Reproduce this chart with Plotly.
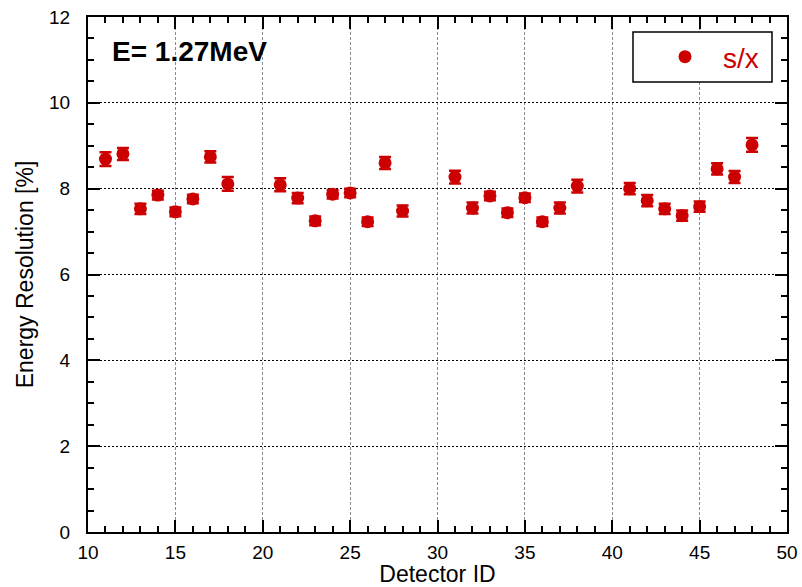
import plotly.graph_objects as go

detector_id = [11, 12, 13, 14, 15, 16, 17, 18,
               21, 22, 23, 24, 25, 26, 27, 28,
               31, 32, 33, 34, 35, 36, 37, 38,
               41, 42, 43, 44, 45, 46, 47, 48]
resolution = [8.69, 8.81, 7.53, 7.85, 7.46, 7.76, 8.74, 8.11,
              8.09, 7.78, 7.25, 7.87, 7.90, 7.23, 8.60, 7.48,
              8.27, 7.55, 7.83, 7.44, 7.79, 7.23, 7.55, 8.06,
              8.00, 7.72, 7.53, 7.37, 7.58, 8.46, 8.27, 9.02]
res_err = [0.16, 0.14, 0.12, 0.10, 0.10, 0.10, 0.13, 0.16,
           0.15, 0.12, 0.10, 0.10, 0.10, 0.10, 0.14, 0.13,
           0.15, 0.13, 0.10, 0.10, 0.10, 0.10, 0.13, 0.15,
           0.13, 0.13, 0.12, 0.12, 0.12, 0.13, 0.14, 0.16]

RED = "#cc0000"
FONT = "Liberation Sans"

fig = go.Figure()
fig.add_trace(go.Scatter(
    x=detector_id, y=resolution, mode="markers", name="s/x",
    marker=dict(color=RED, size=13, line=dict(width=0)),
    error_y=dict(type="data", array=res_err, color=RED, thickness=2.5, width=6),
))

tick_common = dict(
    ticks="inside", tickcolor="black", tickwidth=2, ticklen=12,
    tickfont=dict(family=FONT, size=19, color="black"),
    zeroline=False, automargin=False,
)

fig.update_layout(
    xaxis=dict(
        range=[10, 50], dtick=5, tick0=10,
        showline=True, linecolor="black", linewidth=2, mirror=True,
        showgrid=True, gridcolor="#8a8a8a", gridwidth=1, griddash="3px,2px",
        minor=dict(dtick=1, ticks="inside", ticklen=6, tickwidth=1.5, tickcolor="black", showgrid=False),
        title=dict(text="Detector ID", font=dict(family=FONT, size=23, color="black"), standoff=9),
        ticklabelstandoff=2,
        **tick_common,
    ),
    xaxis2=dict(
        overlaying="x", matches="x", side="top", anchor="y",
        range=[10, 50], dtick=5, tick0=10, showticklabels=False, showgrid=False,
        minor=dict(dtick=1, ticks="inside", ticklen=6, tickwidth=1.5, tickcolor="black", showgrid=False),
        **tick_common,
    ),
    yaxis=dict(
        range=[0, 12], dtick=2, tick0=0,
        showline=True, linecolor="black", linewidth=2, mirror=True,
        showgrid=True, gridcolor="black", gridwidth=1.2, griddash="2px,2px",
        minor=dict(dtick=0.5, ticks="inside", ticklen=6, tickwidth=1.5, tickcolor="black", showgrid=False),
        title=dict(text="Energy Resolution [%]", font=dict(family=FONT, size=23, color="black"), standoff=9),
        ticklabelstandoff=12,
        **tick_common,
    ),
    yaxis2=dict(
        overlaying="y", matches="y", side="right", anchor="x",
        range=[0, 12], dtick=2, tick0=0, showticklabels=False, showgrid=False,
        minor=dict(dtick=0.5, ticks="inside", ticklen=6, tickwidth=1.5, tickcolor="black", showgrid=False),
        **tick_common,
    ),
)

# invisible helper trace so the mirrored axes are drawn
fig.add_trace(go.Scatter(x=[detector_id[0]], y=[resolution[0]], xaxis="x2", yaxis="y2",
                         mode="markers", marker=dict(opacity=0), showlegend=False, hoverinfo="skip"))

fig.add_shape(type="rect", xref="paper", yref="paper",
              x0=(633 - 88) / 699, x1=(772 - 88) / 699,
              y0=(532 - 82) / 515, y1=(532 - 32) / 515,
              line=dict(color="black", width=1.5), fillcolor="white", layer="above")

fig.add_annotation(text="<b>E= 1.27MeV</b>", xref="paper", yref="paper",
                   x=(110 - 88) / 699, y=(532 - 52) / 515, xanchor="left", yanchor="middle",
                   showarrow=False, font=dict(family=FONT, size=28, color="black"))

fig.update_layout(
    width=802, height=587,
    margin=dict(l=88, r=15, t=17, b=55, autoexpand=False),
    paper_bgcolor="white", plot_bgcolor="white",
    showlegend=True,
    legend=dict(x=(647 - 88) / 699, y=(532 - 57) / 515, xanchor="left", yanchor="middle",
                bgcolor="rgba(0,0,0,0)", borderwidth=0, itemwidth=66,
                font=dict(family=FONT, size=28, color=RED)),
)

fig.write_html("out.html")
